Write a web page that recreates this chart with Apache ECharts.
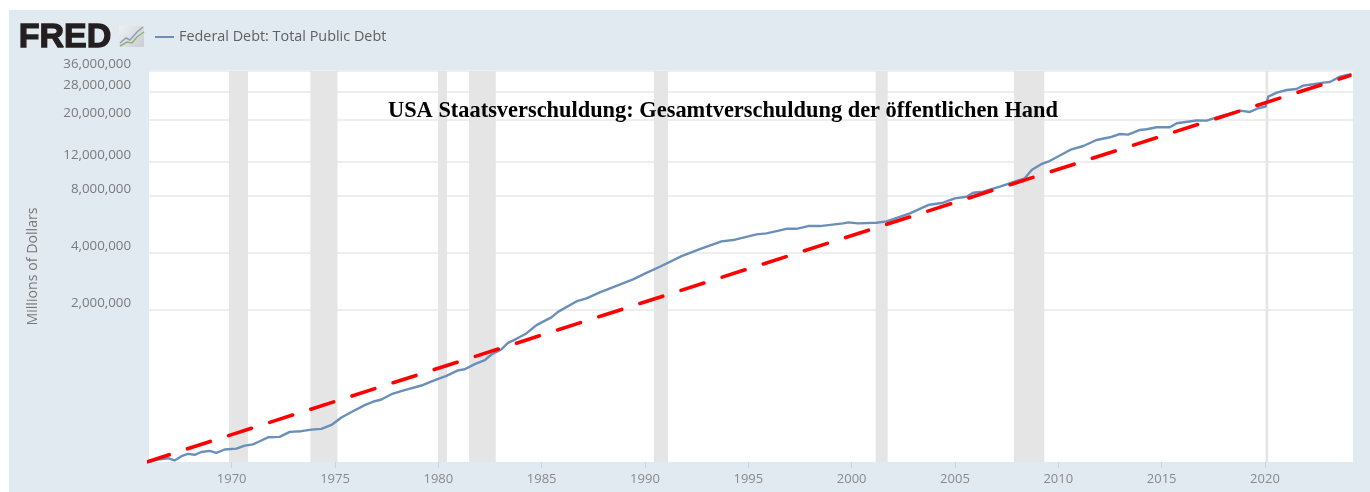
<!DOCTYPE html>
<html><head><meta charset="utf-8">
<style>html,body{margin:0;padding:0;background:#fff;overflow:hidden}#c{width:1370px;height:492px;filter:blur(0.4px)}</style>
<script src="https://cdn.jsdelivr.net/npm/echarts@6/dist/echarts.min.js"></script>
</head><body><div id="c"></div>
<script>
const chartTitle = 'USA Staatsverschuldung: Gesamtverschuldung der öffentlichen Hand';
const seriesName = 'Federal Debt: Total Public Debt';
const trendName = 'Trend';
const yTickValues = [2000000, 4000000, 8000000, 12000000, 20000000, 28000000, 36000000];
const xTickValues = [1970, 1975, 1980, 1985, 1990, 1995, 2000, 2005, 2010, 2015, 2020];
const debtYears = [1966,1966.43,1966.92,1967.24,1967.57,1967.88,1968.21,1968.53,1968.94,1969.26,1969.66,1970.23,1970.63,1971.03,1971.36,1971.76,1972.32,1972.81,1973.37,1973.86,1974.34,1974.83,1975.31,1975.87,1976.44,1976.92,1977.25,1977.73,1978.37,1979.18,1979.74,1980.39,1980.95,1981.28,1981.76,1982.25,1982.57,1983.05,1983.37,1983.78,1984.26,1984.75,1985.47,1985.79,1986.68,1987.17,1987.81,1988.62,1989.42,1990.07,1990.72,1991.77,1992.65,1993.7,1994.26,1995.4,1995.88,1996.85,1997.33,1997.9,1998.46,1999.59,1999.83,2000.31,2001.2,2001.69,2002.82,2003.7,2004.43,2004.99,2005.56,2005.88,2006.36,2007.17,2008.14,2008.38,2008.71,2009.19,2009.51,2010.64,2011.21,2011.85,2012.5,2012.98,2013.38,2013.95,2014.27,2014.76,2015.4,2015.73,2016.69,2017.18,2017.66,2018.79,2019.27,2019.67,2020.03,2020.16,2020.57,2021.05,2021.53,2021.85,2022.34,2022.82,2023.14,2023.63,2024.19];
const debtValues = [319000,329000,334000,325000,342000,352000,348000,360000,365000,356000,371000,375000,389000,395000,410000,430000,432000,459000,463000,472000,476000,499000,546000,589000,634000,665000,679000,724000,760000,804000,851000,903000,965000,979000,1041000,1092000,1170000,1244000,1346000,1414000,1509000,1669000,1831000,1959000,2221000,2304000,2477000,2684000,2899000,3140000,3378000,3842000,4184000,4592000,4665000,4998000,5058000,5345000,5345000,5524000,5524000,5709000,5778000,5709000,5750000,5848000,6444000,7122000,7324000,7724000,7876000,8266000,8366000,8890000,9641000,9838000,10880000,11698000,12028000,13974000,14542000,15634000,16154000,16812000,16678000,17656000,17800000,18232000,18232000,19140000,19780000,19750000,20528000,22290000,21940000,22946000,23392000,26392000,27720000,28624000,28970000,30150000,30670000,31270000,31540000,33620000,34740000];
const trendYears = [1965.87, 2024.11];
const trendValues = [319000, 34040000];
const recessionStarts = [1969.87,1973.81,1979.99,1981.49,1990.43,2001.16,2007.85,2020.03];
const recessionEnds   = [1970.79,1975.12,1980.42,1982.78,1991.12,2001.74,2009.32,2020.16];

const chart = echarts.init(document.getElementById('c'), null, {renderer:'canvas'});
const fontUI = '"Open Sans", sans-serif';
chart.setOption({
  animation:false,
  backgroundColor:'#ffffff',
  title:{text:chartTitle,left:383,top:95,textStyle:{fontFamily:'"Liberation Serif", serif',fontWeight:'bold',fontSize:22.4,color:'#000'}},
  legend:{data:[{name:seriesName,icon:'rect'}],left:150,top:25,itemWidth:19,itemHeight:2,itemGap:6,textStyle:{fontFamily:fontUI,fontSize:14.4,color:'#5f5f5f'}},
  graphic:[
    {type:'rect',z:-10,shape:{x:9,y:10,width:1361,height:482},style:{fill:'#e1e9f1'},silent:true},
    {type:'text',left:18,top:20,z:10,style:{text:'FRED',font:'bold 34px "Liberation Sans", sans-serif',fill:'#231f20',stroke:'#231f20',lineWidth:1.3},silent:true},
    {type:'rect',z:9,shape:{x:119,y:26,width:25,height:21,r:1},
      style:{fill:new echarts.graphic.LinearGradient(0,0,1,1,[{offset:0,color:'#eef1f4'},{offset:1,color:'#c9cdd1'}])},silent:true},
    {type:'polyline',z:10,shape:{points:[[120,43],[126,38],[130,40],[137,32],[143,27]]},style:{stroke:'#8ea0ae',fill:'none',lineWidth:1.5},silent:true},
    {type:'polyline',z:10,shape:{points:[[120,46],[127,42],[132,43],[137,37],[144,32]]},style:{stroke:'#8fb07a',fill:'none',lineWidth:1.5},silent:true}
  ],
  grid:{left:149,right:17,top:71,bottom:30,show:true,backgroundColor:'#ffffff',borderWidth:0},
  xAxis:{type:'value',min:1966,max:2024.26,
    axisLine:{show:false},
    axisTick:{show:true,length:6,lineStyle:{color:'#c5d3e3'},customValues:xTickValues},
    splitLine:{show:false},
    axisLabel:{customValues:xTickValues,formatter:v=>String(v),margin:11,fontFamily:fontUI,fontSize:13,color:'#8a8a8a'}},
  yAxis:{type:'log',logBase:2,min:319000,max:36000000,
    name:'Millions of Dollars',nameLocation:'middle',nameGap:109,nameTextStyle:{fontFamily:fontUI,fontSize:14.2,color:'#777'},
    axisLine:{show:false},
    axisTick:{show:false,customValues:yTickValues},
    splitLine:{show:true,lineStyle:{color:'#eeeeee',width:2}},
    axisLabel:{customValues:yTickValues,formatter:v=>Math.round(v).toLocaleString('en-US'),verticalAlign:'bottom',margin:18,fontFamily:fontUI,fontSize:13.3,color:'#7a7a7a'}},
  series:[
    {name:seriesName,type:'line',showSymbol:false,symbol:'none',z:3,
     data:debtYears.map((y,i)=>[y,debtValues[i]]),
     itemStyle:{color:'#6a8fb8'},
     lineStyle:{color:'#6a8fb8',width:2.4},
     markArea:{silent:true,z:1,itemStyle:{color:'#e5e5e5'},
       data:recessionStarts.map((s,i)=>[{xAxis:s},{xAxis:recessionEnds[i]}])}},
    {name:trendName,type:'line',showSymbol:false,symbol:'none',clip:false,z:4,
     data:trendYears.map((y,i)=>[y,trendValues[i]]),
     lineStyle:{color:'#ff0000',width:3.6,type:[24,19.2],cap:'round'}}
  ]
});
</script></body></html>
